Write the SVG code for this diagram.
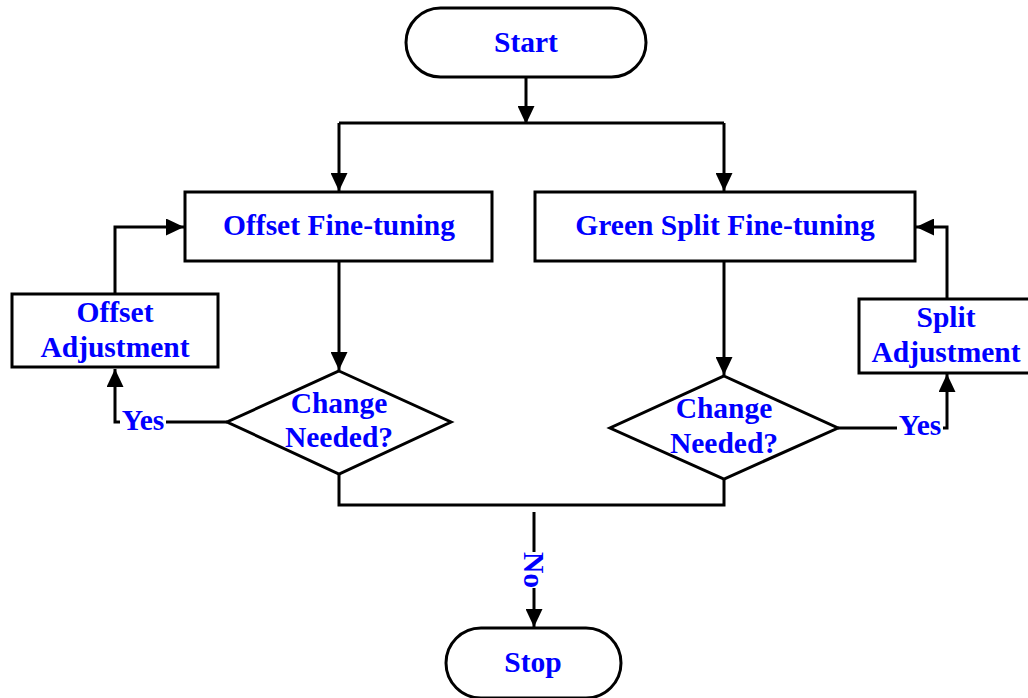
<svg xmlns="http://www.w3.org/2000/svg" width="1028" height="698" viewBox="0 0 1028 698">
  <style>
    .shape { fill: #ffffff; stroke: #000000; stroke-width: 3; }
    .wire { fill: none; stroke: #000000; stroke-width: 3; }
    .label { font-family: "Liberation Serif", "Times New Roman", serif; font-weight: bold; font-size: 29.5px; fill: #0000ff; text-anchor: middle; }
  </style>
  <defs>
    <marker id="arrow" viewBox="0 0 18 17" refX="18" refY="8.5" markerWidth="18" markerHeight="17" markerUnits="userSpaceOnUse" orient="auto">
      <path d="M0,0 L18,8.5 L0,17 Z" fill="#000000"/>
    </marker>
  </defs>

  <!-- connectors -->
  <g id="connectors">
    <line class="wire" x1="526" y1="77" x2="526" y2="124" marker-end="url(#arrow)"/>
    <polyline class="wire" points="339,123 724,123"/>
    <line class="wire" x1="339" y1="123" x2="339" y2="191" marker-end="url(#arrow)"/>
    <line class="wire" x1="724" y1="123" x2="724" y2="191" marker-end="url(#arrow)"/>
    <line class="wire" x1="339" y1="261" x2="339" y2="370" marker-end="url(#arrow)"/>
    <line class="wire" x1="724" y1="261" x2="724" y2="375" marker-end="url(#arrow)"/>
    <polyline class="wire" points="227,422 115,422 115,369" marker-end="url(#arrow)"/>
    <polyline class="wire" points="115,294 115,227 184,227" marker-end="url(#arrow)"/>
    <polyline class="wire" points="838,428 947,428 947,374" marker-end="url(#arrow)"/>
    <polyline class="wire" points="947,299 947,227 916,227" marker-end="url(#arrow)"/>
    <polyline class="wire" points="339,474 339,505 724,505 724,479"/>
    <line class="wire" x1="534" y1="512" x2="534" y2="627" marker-end="url(#arrow)"/>
    <!-- branch labels with white backing to break the lines -->
    <rect x="120" y="405" width="46" height="30" fill="#ffffff"/>
    <text class="label" x="143" y="430">Yes</text>
    <rect x="897" y="411" width="46" height="30" fill="#ffffff"/>
    <text class="label" x="920" y="435">Yes</text>
    <rect x="520" y="552" width="28" height="36" fill="#ffffff"/>
    <text class="label" transform="translate(524,570) rotate(90)">No</text>
  </g>

  <g id="start">
    <rect class="shape" x="406" y="8" width="240" height="69" rx="34.5" ry="34.5"/>
    <text class="label" x="526" y="52">Start</text>
  </g>

  <g id="offset-fine-tuning">
    <rect class="shape" x="185" y="192" width="307" height="69"/>
    <text class="label" x="339" y="235">Offset Fine-tuning</text>
  </g>

  <g id="green-split-fine-tuning">
    <rect class="shape" x="535" y="192" width="380" height="69"/>
    <text class="label" x="725" y="235">Green Split Fine-tuning</text>
  </g>

  <g id="offset-adjustment">
    <rect class="shape" x="12" y="294" width="206" height="73"/>
    <text class="label" x="115" y="322">Offset</text>
    <text class="label" x="115" y="357">Adjustment</text>
  </g>

  <g id="split-adjustment">
    <rect class="shape" x="859" y="299" width="171" height="74"/>
    <text class="label" x="946" y="327">Split</text>
    <text class="label" x="946" y="362">Adjustment</text>
  </g>

  <g id="left-decision">
    <polygon class="shape" points="339,371 451,422 339,474 227,422"/>
    <text class="label" x="339" y="413">Change</text>
    <text class="label" x="339" y="447">Needed?</text>
  </g>

  <g id="right-decision">
    <polygon class="shape" points="724,376 838,428 724,479 610,428"/>
    <text class="label" x="724" y="418">Change</text>
    <text class="label" x="724" y="453">Needed?</text>
  </g>

  <g id="stop">
    <rect class="shape" x="446" y="628" width="175" height="70" rx="35" ry="35"/>
    <text class="label" x="533" y="672">Stop</text>
  </g>
</svg>
